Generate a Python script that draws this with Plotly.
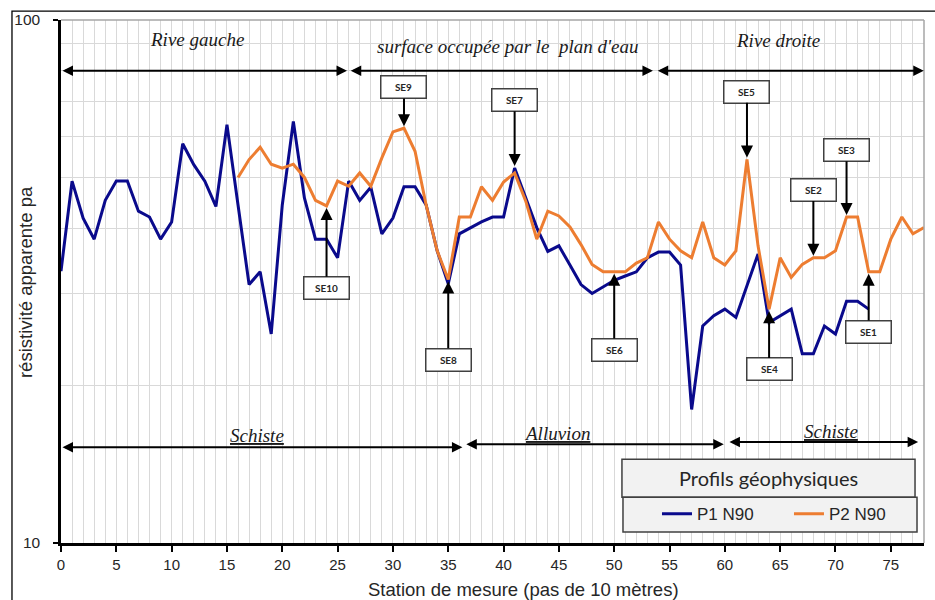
import math
import plotly.graph_objects as go

# Apparent resistivity profiles along the measuring line (one station every 10 m)
stations_p1 = list(range(0, 74))
rho_p1 = [
    33.1, 49.2, 41.8, 38.1, 45.2, 49.2, 49.2, 43.1, 42.0, 38.1,
    41.1, 58.0, 52.9, 49.2, 44.0, 63.1, 44.3, 31.2, 33.0, 25.1,
    44.3, 64.0, 45.7, 38.1, 38.1, 35.1, 49.2, 45.2, 47.9, 39.0,
    41.8, 48.0, 48.0, 44.3, 36.2, 31.3, 39.0, 40.1, 41.1, 42.0,
    42.0, 52.1, 45.7, 40.1, 36.1, 37.0, 34.0, 31.2, 30.0, 30.9,
    31.8, 32.4, 33.0, 35.1, 36.0, 36.0, 34.0, 18.0, 26.0, 27.2,
    28.0, 27.0, 31.0, 35.7, 26.4, 27.2, 28.0, 23.0, 23.0, 26.0,
    25.1, 29.0, 29.0, 28.0,
]

stations_p2 = list(range(16, 79))
rho_p2 = [
    50.0, 54.1, 57.1, 53.0, 52.1, 53.0, 50.0, 45.2, 44.1, 49.2,
    48.1, 51.0, 48.1, 54.5, 61.1, 62.1, 56.1, 44.3, 36.2, 31.9,
    42.0, 42.0, 48.0, 45.2, 49.0, 51.0, 45.1, 38.1, 43.1, 42.2,
    40.2, 37.2, 34.1, 33.0, 33.0, 33.0, 34.3, 35.1, 41.1, 38.1,
    36.2, 35.1, 41.1, 35.1, 34.0, 36.2, 54.1, 37.0, 28.0, 35.1,
    32.2, 34.1, 35.1, 35.1, 36.2, 42.0, 42.0, 33.0, 33.0, 38.1,
    42.0, 39.0, 40.1,
]

series_names = ["P1 N90", "P2 N90"]
series_colors = ["#0a0a8c", "#ED7D31"]

y_major_ticks = [10, 100]
y_grid_values = [20, 30, 40, 50, 60, 70, 80, 90]

# Electrical soundings: label, profile, station, box offset (px, + = below)
soundings = [
    ("SE9", "P2", 31, -41),
    ("SE7", "P1", 41, -68),
    ("SE5", "P2", 62, -68),
    ("SE3", "P2", 71, -67),
    ("SE2", "P2", 68, -68),
    ("SE1", "P2", 73, 60),
    ("SE4", "P2", 64, 60),
    ("SE6", "P2", 50, 78),
    ("SE8", "P2", 35, 80),
    ("SE10", "P2", 24, 82),
]

# Zones along the profile: (label, start, end, row value, label x, label y paper)
surface_zones = [
    ("Rive gauche", 0.0, 25.85, 80.0, 12.3, 0.962),
    ("surface occupée par le  plan d'eau", 26.05, 53.5, 80.0, 40.4, 0.949),
    ("Rive droite", 53.8, 77.98, 80.0, 64.8, 0.961),
]
geology_zones = [
    ("Schiste", 0.0, 36.28, 15.25, 17.7, 0.206),
    ("Alluvion", 36.5, 59.9, 15.45, 44.8, 0.210),
    ("Schiste", 60.28, 77.47, 15.6, 69.6, 0.214),
]

GRID = "#d9d9d9"
TXT = "#262626"

fig = go.Figure()
fig.add_trace(go.Scatter(
    x=stations_p1, y=rho_p1, mode="lines", name=series_names[0],
    line=dict(color=series_colors[0], width=3),
))
fig.add_trace(go.Scatter(
    x=stations_p2, y=rho_p2, mode="lines", name=series_names[1],
    line=dict(color=series_colors[1], width=3),
))

annotations = []

# Double-headed arrows marking the zones
for label, x0, x1, row, lx, ly in surface_zones + geology_zones:
    annotations.append(dict(
        x=x1, y=math.log10(row), ax=x0, ay=math.log10(row),
        xref="x", yref="y", axref="x", ayref="y",
        text="", showarrow=True, arrowside="end+start",
        arrowhead=2, arrowsize=1.05, arrowwidth=2, arrowcolor="black",
        standoff=0, startstandoff=0,
    ))

for label, x0, x1, row, lx, ly in surface_zones:
    annotations.append(dict(
        x=lx, y=ly, xref="x", yref="paper", text=f"<i>{label}</i>",
        xanchor="center", yanchor="middle", showarrow=False,
        font=dict(family="Liberation Serif", size=19, color="#1a1a1a"),
    ))
for label, x0, x1, row, lx, ly in geology_zones:
    annotations.append(dict(
        x=lx, y=ly, xref="x", yref="paper", text=f"<u><i>{label}</i></u>",
        xanchor="center", yanchor="middle", showarrow=False,
        font=dict(family="Liberation Serif", size=19, color="#1a1a1a"),
    ))

# Sounding markers pointing at the profiles
profiles = {"P1": (stations_p1, rho_p1), "P2": (stations_p2, rho_p2)}
for label, prof, st, off in soundings:
    xs, ys = profiles[prof]
    val = ys[xs.index(st)]
    annotations.append(dict(
        x=st, y=math.log10(val), xref="x", yref="y",
        ax=0, ay=off, text=f"<b>{label}</b>",
        showarrow=True, arrowhead=2, arrowsize=1.2, arrowwidth=2,
        arrowcolor="black", standoff=2,
        width=42, height=19, borderpad=1, borderwidth=1.5,
        bordercolor="#404040", bgcolor="white",
        font=dict(family="Lato", size=10, color="#262626"),
    ))

# Axis titles
annotations.append(dict(
    x=0.536, y=-0.0895, xref="paper", yref="paper",
    xanchor="center", yanchor="middle",
    text="Station de mesure (pas de 10 mètres)", showarrow=False,
    font=dict(family="Liberation Sans", size=18.5, color=TXT),
))
annotations.append(dict(
    x=-0.0417, y=0.499, xref="paper", yref="paper", textangle=-90,
    xanchor="center", yanchor="middle",
    text="résistivité apparente pa", showarrow=False,
    font=dict(family="Liberation Sans", size=18.5, color=TXT),
))

# Legend heading
annotations.append(dict(
    x=0.8198, y=0.1238, xref="paper", yref="paper",
    xanchor="center", yanchor="middle",
    text="Profils géophysiques", showarrow=False,
    font=dict(family="Lato", size=20, color=TXT),
))

shapes = [
    # outer frame of the figure
    dict(type="rect", xref="paper", yref="paper",
         x0=-0.0568, x1=1.03, y0=-0.13, y1=1.0171,
         line=dict(color="black", width=1.3), layer="above"),
    # top and right borders of the plotting area
    dict(type="line", xref="paper", yref="paper", x0=0, x1=1, y0=1, y1=1,
         line=dict(color="#a6a6a6", width=1.5), layer="above"),
    dict(type="line", xref="paper", yref="paper", x0=1, x1=1, y0=0, y1=1,
         line=dict(color="#a6a6a6", width=1.5), layer="above"),
    # legend panels
    dict(type="rect", xref="paper", yref="paper",
         x0=0.650, x1=0.9896, y0=0.0876, y1=0.160,
         line=dict(color="#404040", width=1.5), fillcolor="#f2f2f2", layer="above"),
    dict(type="rect", xref="paper", yref="paper",
         x0=0.6512, x1=0.9919, y0=0.021, y1=0.0876,
         line=dict(color="#404040", width=1.5), fillcolor="#f2f2f2", layer="above"),
]

fig.update_layout(
    width=935, height=600, autosize=False,
    margin=dict(l=61, r=11, t=18, b=57, pad=0),
    paper_bgcolor="white", plot_bgcolor="white",
    showlegend=True,
    legend=dict(
        orientation="h", x=0.6906, xanchor="left", y=0.0552, yanchor="middle",
        bgcolor="rgba(0,0,0,0)", borderwidth=0,
        entrywidth=87, entrywidthmode="pixels",
        font=dict(family="Liberation Sans", size=17, color=TXT),
    ),
    annotations=annotations,
    shapes=shapes,
)

fig.update_xaxes(
    range=[0, 78], tick0=0, dtick=5,
    showline=True, linecolor="black", linewidth=2.5,
    ticks="outside", ticklen=6, tickwidth=2, tickcolor="black",
    showgrid=True, gridcolor=GRID, gridwidth=1.3, zeroline=False,
    minor=dict(dtick=1, tick0=0, showgrid=True, gridcolor=GRID, gridwidth=1.3, ticks=""),
    tickfont=dict(family="Liberation Sans", size=15, color=TXT),
)
fig.update_yaxes(
    type="log", range=[1, 2],
    tickmode="array", tickvals=y_major_ticks, ticktext=[str(v) for v in y_major_ticks],
    showline=True, linecolor="black", linewidth=2.5,
    ticks="outside", ticklen=5, tickwidth=2, tickcolor="black",
    ticklabelstandoff=10,
    showgrid=True, gridcolor=GRID, gridwidth=1.3, zeroline=False,
    minor=dict(tickmode="array", tickvals=y_grid_values, showgrid=True,
               gridcolor=GRID, gridwidth=1.3, ticks=""),
    tickfont=dict(family="Liberation Sans", size=15.5, color=TXT),
)

fig.write_html("out.html")
